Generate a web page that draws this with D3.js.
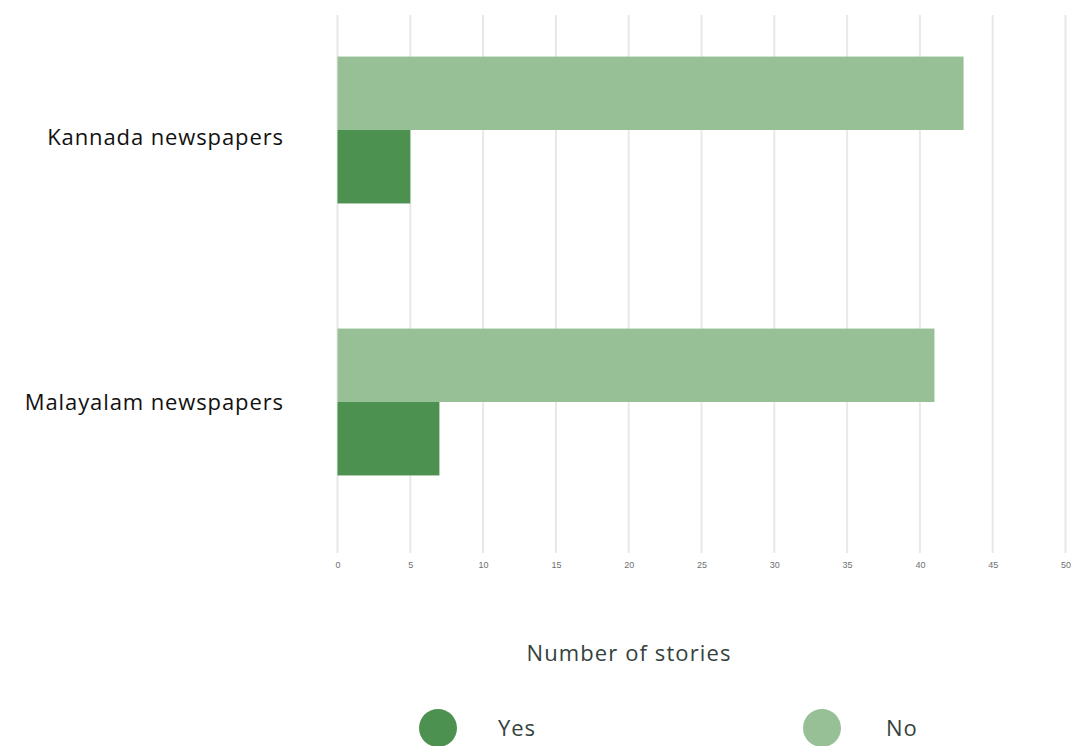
<!DOCTYPE html>
<html>
<head>
<meta charset="utf-8">
<script src="https://cdn.jsdelivr.net/npm/d3@7"></script>
<style>
  html, body { margin: 0; padding: 0; background: #fff; }
  svg { display: block; }
</style>
</head>
<body>
<svg id="chart" width="1081" height="746"></svg>
<script>
// Stories per newspaper group, split by answer
const categories = ["Kannada newspapers", "Malayalam newspapers"];
const seriesNames = ["Yes", "No"];
const yesValues = [5, 7];
const noValues = [43, 41];
const tickValues = [0, 5, 10, 15, 20, 25, 30, 35, 40, 45, 50];
const axisTitle = "Number of stories";

const colors = { Yes: "#4c914f", No: "#97c097" };

const svg = d3.select("#chart");
const font = "'Open Sans', 'Noto Sans', sans-serif";

const x = d3.scaleLinear().domain([0, 50]).range([337.5, 1065.5]);
const y = d3.scaleBand().domain(categories).range([-6, 538])
  .paddingInner(0.46).paddingOuter(0.23);
// "No" sits above "Yes" within each group
const sub = d3.scaleBand().domain(["No", "Yes"]).range([0, y.bandwidth()]);

// vertical gridlines
svg.append("g").selectAll("line").data(tickValues).join("line")
  .attr("x1", d => x(d)).attr("x2", d => x(d))
  .attr("y1", 15).attr("y2", 553)
  .attr("stroke", "#e8e8e8").attr("stroke-width", 2);

// tick labels
const xAxis = d3.axisBottom(x).tickValues(tickValues).tickSize(0).tickPadding(0);
const ax = svg.append("g").attr("transform", "translate(0,562)").call(xAxis);
ax.select(".domain").remove();
ax.selectAll("text").attr("font-family", "Arial, 'Liberation Sans', sans-serif")
  .attr("font-size", 9).attr("fill", "#6f6f6f");

const rows = categories.map((c, i) => ({ cat: c, Yes: yesValues[i], No: noValues[i] }));

const groups = svg.append("g").selectAll("g").data(rows).join("g")
  .attr("transform", d => `translate(0,${y(d.cat)})`);

groups.selectAll("rect").data(d => seriesNames.map(k => ({ key: k, value: d[k] }))).join("rect")
  .attr("x", x(0))
  .attr("y", d => sub(d.key))
  .attr("width", d => x(d.value) - x(0))
  .attr("height", sub.bandwidth())
  .attr("fill", d => colors[d.key]);

// category labels
const labelShift = [7, 0];
svg.append("g").selectAll("text").data(categories).join("text")
  .attr("x", 284).attr("y", (d, i) => y(d) + y.bandwidth() / 2 + labelShift[i])
  .attr("dy", "0.35em").attr("text-anchor", "end")
  .attr("font-family", font).attr("font-size", 22).attr("fill", "#111")
  .style("letter-spacing", "0.9px")
  .text(d => d);

// axis title
svg.append("text").attr("x", 629).attr("y", 653).attr("dy", "0.35em")
  .attr("text-anchor", "middle").attr("font-family", font).attr("font-size", 22)
  .attr("fill", "#34423d").style("letter-spacing", "1.1px").text(axisTitle);

// legend
const legendPos = [{ key: "Yes", cx: 438, tx: 498 }, { key: "No", cx: 822, tx: 886 }];
const lg = svg.append("g").selectAll("g").data(legendPos).join("g");
lg.append("circle").attr("cx", d => d.cx).attr("cy", 728).attr("r", 19)
  .attr("fill", d => colors[d.key]);
lg.append("text").attr("x", d => d.tx).attr("y", 728).attr("dy", "0.35em")
  .attr("font-family", font).attr("font-size", 22).attr("fill", "#34423d")
  .style("letter-spacing", "0.9px")
  .text(d => d.key);
</script>
</body>
</html>
